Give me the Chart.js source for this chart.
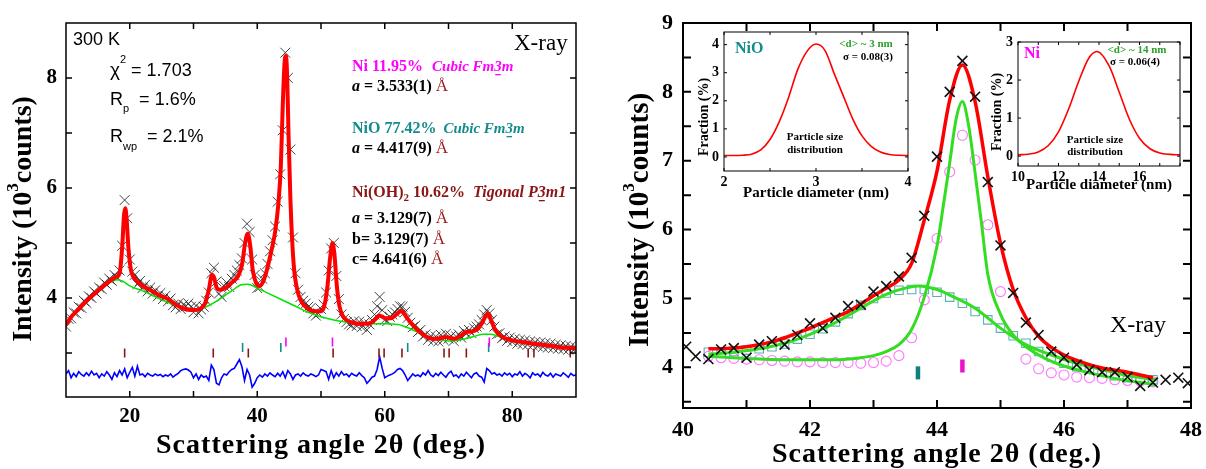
<!DOCTYPE html>
<html lang="en">
<head>
<meta charset="utf-8">
<title>XRD refinement of Ni / NiO / Ni(OH)2 nanoparticles</title>
<script src="https://cdn.jsdelivr.net/npm/chart.js@4.4.1/dist/chart.umd.min.js"></script>
<style>
  html, body { margin: 0; padding: 0; background: #fff; }
  #figure { position: relative; width: 1206px; height: 469px; overflow: hidden; background: #fff; }
  #figure canvas { position: absolute; }
</style>
</head>
<body>
<div id="figure">
  <canvas id="xrd" width="600" height="469" style="left:0;top:0;width:600px;height:469px"></canvas>
  <canvas id="peak" width="606" height="469" style="left:600px;top:0;width:606px;height:469px"></canvas>
  <canvas id="sizeNiO" width="225" height="180" style="left:690px;top:25px;width:225px;height:180px"></canvas>
  <canvas id="sizeNi" width="215" height="170" style="left:985px;top:30px;width:215px;height:170px"></canvas>
</div>
<script>
// ---------------- full pattern (left panel), 10^3 counts ----------------
// observed scan on a uniform 2θ step
const scanStart = 10;
const scanStep = 0.4;
const observedCounts = [
  3.48,3.62,3.63,3.74,3.72,3.84,3.82,3.95,3.91,4.03,
  4.00,4.12,4.08,4.19,4.16,4.28,4.24,4.35,4.31,4.42,
  4.37,4.50,4.95,5.78,5.45,4.70,4.48,4.42,4.25,4.31,
  4.18,4.24,4.12,4.19,4.08,4.14,4.03,4.09,3.98,4.04,
  3.94,3.99,3.87,3.83,3.90,3.80,3.88,3.85,3.90,3.84,
  3.74,3.86,3.72,3.79,3.84,3.95,4.10,4.45,4.55,4.30,
  4.08,4.02,4.22,4.28,4.20,4.35,4.42,4.50,4.60,4.72,
  5.00,5.35,5.20,4.70,4.42,4.18,4.20,4.35,4.45,4.62,
  4.85,5.05,5.30,5.75,6.25,7.05,8.46,8.00,6.70,5.10,
  4.45,4.15,4.02,3.95,3.90,3.84,3.82,3.72,3.68,3.72,
  3.80,3.88,4.10,4.50,4.90,5.00,4.40,3.98,3.70,3.62,
  3.56,3.52,3.50,3.58,3.49,3.57,3.47,3.55,3.42,3.52,
  3.60,3.70,3.85,4.02,3.78,3.60,3.58,3.66,3.70,3.74,
  3.80,3.85,3.84,3.75,3.64,3.55,3.47,3.50,3.38,3.42,
  3.30,3.34,3.24,3.31,3.22,3.30,3.21,3.33,3.24,3.35,
  3.26,3.31,3.22,3.30,3.34,3.28,3.40,3.35,3.42,3.36,
  3.45,3.48,3.52,3.60,3.70,3.78,3.72,3.60,3.48,3.34,
  3.36,3.27,3.30,3.22,3.28,3.20,3.26,3.17,3.24,3.16,
  3.23,3.15,3.21,3.14,3.20,3.12,3.19,3.11,3.18,3.10,
  3.17,3.09,3.15,3.08,3.14,3.07,3.13,3.06,3.12,3.05,
  3.10
];
// observed minus calculated, plotted with an offset below the pattern
const differenceCounts = [
  2.62,2.68,2.55,2.63,2.57,2.66,2.61,2.58,2.64,2.59,
  2.67,2.60,2.63,2.55,2.62,2.58,2.66,2.60,2.52,2.64,
  2.57,2.68,2.60,2.71,2.55,2.65,2.74,2.58,2.76,2.60,
  2.62,2.57,2.63,2.60,2.58,2.62,2.59,2.61,2.57,2.60,
  2.58,2.62,2.56,2.60,2.63,2.68,2.70,2.71,2.69,2.65,
  2.55,2.62,2.52,2.60,2.56,2.58,2.50,2.78,2.70,2.45,
  2.42,2.55,2.62,2.60,2.66,2.70,2.72,2.80,2.88,2.75,
  2.50,2.70,2.60,2.38,2.45,2.55,2.60,2.56,2.62,2.58,
  2.64,2.60,2.57,2.63,2.58,2.66,2.55,2.68,2.62,2.52,
  2.60,2.62,2.58,2.64,2.60,2.58,2.62,2.60,2.57,2.60,
  2.70,2.68,2.66,2.52,2.68,2.55,2.64,2.58,2.66,2.60,
  2.62,2.57,2.63,2.60,2.58,2.64,2.59,2.55,2.45,2.50,
  2.56,2.58,2.70,2.93,2.72,2.55,2.58,2.60,2.62,2.65,
  2.70,2.72,2.68,2.60,2.50,2.56,2.62,2.58,2.60,2.57,
  2.64,2.60,2.68,2.60,2.57,2.63,2.59,2.65,2.60,2.56,
  2.63,2.67,2.58,2.60,2.55,2.62,2.58,2.65,2.60,2.55,
  2.62,2.64,2.58,2.56,2.47,2.72,2.68,2.62,2.64,2.60,
  2.62,2.58,2.64,2.60,2.63,2.57,2.62,2.60,2.66,2.58,
  2.63,2.60,2.55,2.64,2.60,2.62,2.57,2.65,2.60,2.58,
  2.63,2.56,2.62,2.60,2.58,2.64,2.60,2.56,2.63,2.59,
  2.60
];
// calculated Rietveld profile
const calcAngle = [
  10,11,12,13,14,15,16,17,17.8,18.4,18.8,19.1,19.3,19.5,19.8,20.2,20.6,21,22,23,
  24,25,26,27,28,29,30,31,31.8,32.4,32.9,33.2,33.6,34.1,35,36,37,37.6,38.1,38.5,
  38.9,39.3,39.8,40.4,41,41.6,42.2,42.8,43.3,43.7,44.0,44.3,44.5,44.7,44.9,45.2,45.5,45.8,46.1,46.5,
  47,48,49,50,50.5,51,51.4,51.8,52.1,52.5,52.9,53.4,54,55,56,57,58,58.6,59.1,59.6,
  60.2,61,61.6,62.2,62.6,63,63.6,64.5,65.5,66.5,67.5,68.5,69.4,70,71,72,72.7,73.5,74.5,75.3,
  75.8,76.2,76.6,77.2,78,79,80,82,84,86,88,90
];
const calcCounts = [
  3.51,3.68,3.80,3.92,4.03,4.13,4.23,4.32,4.38,4.45,4.90,5.50,5.63,5.45,4.90,4.50,4.38,4.32,4.22,4.16,
  4.09,4.03,3.98,3.90,3.83,3.79,3.78,3.80,3.90,4.15,4.42,4.38,4.20,4.15,4.18,4.28,4.40,4.60,5.00,5.17,
  4.95,4.50,4.28,4.22,4.32,4.55,4.85,5.20,5.70,6.40,7.50,8.30,8.40,8.00,7.00,5.80,5.00,4.50,4.25,4.05,
  3.92,3.80,3.76,3.76,3.85,4.20,4.70,5.00,4.80,4.20,3.85,3.68,3.60,3.55,3.53,3.53,3.56,3.62,3.68,3.66,
  3.63,3.63,3.68,3.74,3.77,3.72,3.62,3.50,3.38,3.30,3.26,3.26,3.29,3.28,3.26,3.32,3.38,3.39,3.43,3.55,
  3.67,3.72,3.62,3.45,3.33,3.26,3.23,3.19,3.16,3.13,3.10,3.09
];
// refined background
const bgAngle = [10,12,14,16,17,18,19,20,22,24,26,28,29.5,31,32,34,36,37.5,38.5,40,42,44,46,48,50,52,54,56,58,60,62,64,66,68,70,72,74,75.5,76.5,78,80,82,84,86,88,90];
const bgCounts = [3.51,3.80,4.03,4.22,4.29,4.33,4.30,4.22,4.13,4.02,3.92,3.83,3.79,3.80,3.84,3.97,4.13,4.24,4.25,4.18,4.07,3.96,3.85,3.74,3.66,3.60,3.56,3.53,3.53,3.53,3.52,3.44,3.33,3.26,3.22,3.24,3.30,3.34,3.34,3.30,3.23,3.19,3.16,3.13,3.10,3.09];
// Bragg reflection positions (2θ, deg.)
const braggNi = [44.5, 51.8, 76.4];
const braggNiO = [37.7, 43.7, 63.6, 76.3];
const braggNiOH2 = [19.2, 33.1, 38.6, 51.9, 59.1, 59.9, 62.7, 69.3, 70.1, 72.8, 82.5, 83.4, 89.1];

const xrdXTicks = [20, 30, 40, 50, 60, 70, 80];
const xrdXLabels = [20, 40, 60, 80];
const xrdYTicks = [3, 4, 5, 6, 7, 8];
const xrdYLabels = [4, 6, 8];

// ---------------- (111)/(200) region (right panel), 10^3 counts ----------------
const peakObsAngle = [40.05,40.2,40.4,40.6,40.8,41.0,41.2,41.4,41.6,41.8,42.0,42.2,42.4,42.6,42.8,43.0,43.2,43.4,43.6,43.8,44.0,44.2,44.4,44.6,44.8,45.0,45.2,45.4,45.6,45.8,46.0,46.2,46.4,46.6,46.8,47.0,47.2,47.4,47.6,47.8,47.95];
const peakObsCounts = [4.30,4.16,4.12,4.26,4.28,4.14,4.33,4.38,4.33,4.47,4.64,4.57,4.72,4.89,4.91,5.10,5.18,5.32,5.59,6.20,7.06,8.00,8.45,7.93,6.69,5.77,5.08,4.65,4.47,4.23,4.14,4.04,3.96,3.93,3.93,3.86,3.73,3.78,3.82,3.85,3.77];
const totalFitAngle = [40.4,40.6,40.8,41.0,41.2,41.4,41.6,41.8,42.0,42.2,42.4,42.6,42.8,43.0,43.2,43.4,43.6,43.8,44.0,44.2,44.4,44.6,44.8,45.0,45.2,45.4,45.6,45.8,46.0,46.2,46.4,46.6,46.8,47.0,47.2,47.4];
const totalFitCounts = [4.27,4.27,4.28,4.30,4.33,4.37,4.43,4.50,4.57,4.65,4.73,4.81,4.92,5.04,5.15,5.27,5.51,6.14,6.85,7.88,8.39,7.86,6.77,5.80,5.13,4.72,4.45,4.29,4.18,4.10,4.04,3.99,3.96,3.93,3.89,3.85];
const nioFitAngle = [40.4,40.8,41.2,41.6,42.0,42.4,42.8,43.2,43.5,43.7,44.0,44.2,44.6,45.0,45.4,45.8,46.2,46.6,47.0,47.45];
const nioFitCounts = [4.19,4.22,4.27,4.35,4.48,4.65,4.86,5.06,5.15,5.18,5.13,5.05,4.86,4.57,4.33,4.18,4.06,3.97,3.88,3.82];
const niFitAngle = [40.4,41.0,41.6,42.0,42.4,42.8,43.0,43.2,43.4,43.6,43.8,44.0,44.1,44.2,44.3,44.4,44.5,44.6,44.7,44.8,45.0,45.2,45.4,45.7,46.0,46.4,46.8,47.2,47.45];
const niFitCounts = [4.16,4.13,4.11,4.11,4.11,4.14,4.17,4.23,4.33,4.55,5.02,5.76,6.35,6.97,7.60,7.86,7.50,6.82,6.10,5.35,4.77,4.47,4.30,4.13,4.02,3.92,3.84,3.78,3.75];
const nioPartAngle = [40.4,40.6,40.8,41.0,41.2,41.4,41.6,41.8,42.0,42.2,42.4,42.6,42.8,43.0,43.2,43.4,43.6,43.8,44.0,44.2,44.4,44.6,44.8,45.0,45.2,45.4,45.6,45.8,46.0,46.2,46.4,46.6,46.8,47.0,47.2,47.4];
const nioPartCounts = [4.22,4.22,4.23,4.25,4.27,4.30,4.34,4.41,4.48,4.56,4.66,4.78,4.90,5.00,5.08,5.12,5.13,5.13,5.09,5.02,4.93,4.81,4.69,4.57,4.46,4.35,4.23,4.15,4.06,4.01,3.98,3.93,3.88,3.85,3.83,3.82];
const niPartAngle = [40.4,40.6,40.8,41.0,41.2,41.4,41.6,41.8,42.0,42.2,42.4,42.6,42.8,43.0,43.2,43.4,43.6,43.8,44.0,44.2,44.4,44.6,44.8,45.0,45.4,45.6,45.8,46.0,46.2,46.4,46.6,46.8,47.0,47.2,47.4];
const niPartCounts = [4.16,4.14,4.13,4.12,4.11,4.10,4.09,4.08,4.08,4.07,4.07,4.07,4.06,4.07,4.09,4.17,4.43,4.98,5.87,6.84,7.37,7.01,6.07,5.10,4.12,3.98,3.92,3.89,3.86,3.85,3.84,3.82,3.81,3.80,3.79];
const peakBraggNiO = [43.7];
const peakBraggNi = [44.4];

const peakXTicks = [40, 41, 42, 43, 44, 45, 46, 47, 48];
const peakXLabels = [40, 42, 44, 46, 48];
const peakYTicks = [3.5, 4, 4.5, 5, 5.5, 6, 6.5, 7, 7.5, 8, 8.5, 9];
const peakYLabels = [4, 5, 6, 7, 8, 9];

// ---------------- particle size distributions (insets), % ----------------
const nioDiameter = [2.0,2.1,2.2,2.3,2.4,2.5,2.6,2.7,2.8,2.9,3.0,3.1,3.2,3.3,3.4,3.5,3.6,3.7,3.8,3.9,4.0];
const nioFraction = [0.05,0.05,0.06,0.10,0.25,0.62,1.25,2.10,3.10,3.75,4.02,3.78,2.95,2.15,1.35,0.75,0.38,0.18,0.09,0.06,0.05];
const niDiameter = [10,10.5,11,11.5,12,12.5,13,13.5,13.9,14.5,15,15.5,16,16.5,17,17.5,18];
const niFraction = [0.035,0.05,0.11,0.28,0.64,1.24,1.97,2.58,2.75,2.37,1.68,0.97,0.47,0.20,0.08,0.045,0.035];

const nioXTicks = [2, 2.5, 3, 3.5, 4];
const nioXLabels = [2, 3, 4];
const nioYTicks = [0, 1, 2, 3, 4];
const niXTicks = [10, 11, 12, 13, 14, 15, 16, 17, 18];
const niXLabels = [10, 12, 14, 16];
const niYTicks = [0, 1, 2, 3];

// ---------------- styling helpers ----------------
const SERIF = '"Liberation Serif", "Times New Roman", serif';
const SANS = '"Liberation Sans", Arial, sans-serif';
const COL = {
  ni: '#ff00ff', nio: '#138c8c', nioh: '#8b1515', ang: '#a01c1c',
  red: '#ff0000', green: '#00e400', blue: '#0000ff', size: '#2ca02c'
};
const B = s => `bold ${s}px ${SERIF}`;
const BI = s => `italic bold ${s}px ${SERIF}`;
const R = s => `${s}px ${SERIF}`;
const S = s => `${s}px ${SANS}`;

Chart.defaults.font.family = SERIF;
Chart.defaults.color = '#000';
Chart.defaults.animation = false;

const pts = (xs, ys) => xs.map((x, i) => ({ x, y: ys[i] }));
const scan = (start, step, ys) => ys.map((y, i) => ({ x: +(start + i * step).toFixed(2), y }));
const row = (xs, level) => xs.map(x => ({ x, y: level }));

function axisX(min, max, ticks, labels, size, pad, height) {
  return {
    type: 'linear', min, max,
    afterBuildTicks: s => { s.ticks = ticks.map(value => ({ value })); },
    ticks: {
      autoSkip: false, maxRotation: 0, minRotation: 0, padding: pad, color: '#000',
      font: { family: SERIF, size, weight: 'bold' },
      callback: v => labels.includes(v) ? String(v) : ''
    },
    grid: { display: false, drawTicks: false },
    border: { display: false },
    afterFit: s => { s.height = height; s.paddingLeft = 0; s.paddingRight = 0; }
  };
}
function axisY(min, max, ticks, labels, size, pad, width) {
  return {
    type: 'linear', min, max,
    afterBuildTicks: s => { s.ticks = ticks.map(value => ({ value })); },
    ticks: {
      autoSkip: false, padding: pad, color: '#000',
      font: { family: SERIF, size, weight: 'bold' },
      callback: v => labels.includes(v) ? String(v) : ''
    },
    grid: { display: false, drawTicks: false },
    border: { display: false },
    afterFit: s => { s.width = width; s.paddingTop = 0; s.paddingBottom = 0; }
  };
}

// box frame with inward tick marks on all four sides
function frameTicks(xTicks, yTicks, len, lw) {
  return {
    id: 'frameTicks',
    afterDatasetsDraw(chart) {
      const { ctx, chartArea: a, scales: { x, y } } = chart;
      ctx.save();
      ctx.strokeStyle = '#000';
      ctx.lineWidth = lw;
      ctx.beginPath();
      xTicks.forEach(v => {
        const p = x.getPixelForValue(v);
        ctx.moveTo(p, a.bottom); ctx.lineTo(p, a.bottom - len);
        ctx.moveTo(p, a.top); ctx.lineTo(p, a.top + len);
      });
      yTicks.forEach(v => {
        const p = y.getPixelForValue(v);
        ctx.moveTo(a.left, p); ctx.lineTo(a.left + len, p);
        ctx.moveTo(a.right, p); ctx.lineTo(a.right - len, p);
      });
      ctx.stroke();
      ctx.strokeRect(a.left, a.top, a.right - a.left, a.bottom - a.top);
      ctx.restore();
    }
  };
}

// draw a line of mixed-style text runs; returns end x
function runs(ctx, x, y, parts) {
  let cx = x;
  parts.forEach(p => {
    ctx.font = p.f;
    ctx.fillStyle = p.c || '#000';
    ctx.fillText(p.t, cx, y + (p.dy || 0));
    const w = ctx.measureText(p.t).width;
    if (p.bar) ctx.fillRect(cx + 1, y + 3, w - 2, 1.3);
    cx += w + (p.gap || 0);
  });
  return cx;
}
function runsWidth(ctx, parts) {
  return parts.reduce((w, p) => { ctx.font = p.f; return w + ctx.measureText(p.t).width + (p.gap || 0); }, 0);
}
// centred title made of runs, optionally rotated to read bottom-to-top
function title(ctx, parts, cx, cy, rotated, spacing) {
  ctx.save();
  ctx.translate(cx, cy);
  if (rotated) ctx.rotate(-Math.PI / 2);
  ctx.letterSpacing = spacing || '0px';
  ctx.textAlign = 'left';
  ctx.textBaseline = rotated ? 'middle' : 'alphabetic';
  const w = runsWidth(ctx, parts);
  runs(ctx, -w / 2, 0, parts);
  ctx.restore();
}
const intensityTitle = s => [
  { t: 'Intensity (10', f: B(s) }, { t: '3', f: B(Math.round(s * 0.6)), dy: -s * 0.38 }, { t: 'counts)', f: B(s) }
];

const lineSet = (label, xs, ys, color, width, order) => ({
  label, data: pts(xs, ys), showLine: true, borderColor: color, borderWidth: width,
  pointRadius: 0, cubicInterpolationMode: 'monotone', order
});
const braggSet = (label, xs, level, color, radius, width) => ({
  label, data: row(xs, level), showLine: false, pointStyle: 'line', pointRotation: 90,
  pointRadius: radius, pointBorderColor: color, borderColor: color, pointBorderWidth: width, order: 0
});

// ---------------- left panel: full refinement ----------------
const xrdNotes = {
  id: 'xrdNotes',
  afterDraw(chart) {
    const { ctx, chartArea: a } = chart;
    ctx.save();
    ctx.textAlign = 'left';
    ctx.textBaseline = 'alphabetic';
    runs(ctx, 73, 45, [{ t: '300 K', f: S(18) }]);
    runs(ctx, 110, 76, [{ t: 'χ', f: S(19) }, { t: '2', f: S(11), dy: -13 }, { t: ' = 1.703', f: S(18) }]);
    runs(ctx, 110, 105, [{ t: 'R', f: S(18) }, { t: 'p', f: S(11), dy: 7 }, { t: '  = 1.6%', f: S(18) }]);
    runs(ctx, 110, 142, [{ t: 'R', f: S(18) }, { t: 'wp', f: S(11), dy: 8 }, { t: '  = 2.1%', f: S(18) }]);
    runs(ctx, 514, 50, [{ t: 'X-ray', f: R(23) }]);

    const px = 352;
    runs(ctx, px, 71, [
      { t: 'Ni 11.95%', f: B(16), c: COL.ni, gap: 9 },
      { t: 'Cubic Fm', f: BI(15), c: COL.ni }, { t: '3', f: BI(15), c: COL.ni, bar: true }, { t: 'm', f: BI(15), c: COL.ni }
    ]);
    runs(ctx, px, 91, [{ t: 'a', f: BI(16) }, { t: ' = 3.533(1) ', f: B(16) }, { t: 'Å', f: R(17), c: COL.ang }]);
    runs(ctx, px, 133, [
      { t: 'NiO 77.42%', f: B(16), c: COL.nio, gap: 7 },
      { t: 'Cubic Fm', f: BI(15), c: COL.nio }, { t: '3', f: BI(15), c: COL.nio, bar: true }, { t: 'm', f: BI(15), c: COL.nio }
    ]);
    runs(ctx, px, 153, [{ t: 'a', f: BI(16) }, { t: ' = 4.417(9) ', f: B(16) }, { t: 'Å', f: R(17), c: COL.ang }]);
    runs(ctx, px, 197, [
      { t: 'Ni(OH)', f: B(16), c: COL.nioh }, { t: '2', f: B(11), c: COL.nioh, dy: 4 },
      { t: ' 10.62%', f: B(16), c: COL.nioh, gap: 8 },
      { t: 'Tigonal P', f: BI(16), c: COL.nioh }, { t: '3', f: BI(16), c: COL.nioh, bar: true }, { t: 'm1', f: BI(16), c: COL.nioh }
    ]);
    runs(ctx, px, 223, [{ t: 'a', f: BI(16) }, { t: ' = 3.129(7) ', f: B(16) }, { t: 'Å', f: R(17), c: COL.ang }]);
    runs(ctx, px, 244, [{ t: 'b= 3.129(7) ', f: B(16) }, { t: 'Å', f: R(17), c: COL.ang }]);
    runs(ctx, px, 264, [{ t: 'c= 4.641(6) ', f: B(16) }, { t: 'Å', f: R(17), c: COL.ang }]);
    ctx.restore();

    title(ctx, [{ t: 'Scattering angle 2θ (deg.)', f: B(28) }], (a.left + a.right) / 2, 453, false, '1px');
    title(ctx, intensityTitle(28), 24, 219, true, '0px');
  }
};

new Chart(document.getElementById('xrd'), {
  type: 'scatter',
  data: {
    datasets: [
      lineSet('Calculated', calcAngle, calcCounts, COL.red, 4, 1),
      lineSet('Background', bgAngle, bgCounts, COL.green, 1.5, 2),
      {
        label: 'Observed', data: scan(scanStart, scanStep, observedCounts), showLine: false,
        pointStyle: 'crossRot', pointRadius: 7, pointBorderColor: 'rgba(35,35,35,0.85)',
        borderColor: 'rgba(35,35,35,0.85)', pointBorderWidth: 1, order: 3
      },
      {
        label: 'Difference', data: scan(scanStart, scanStep, differenceCounts), showLine: true,
        borderColor: COL.blue, borderWidth: 1.6, pointRadius: 0, tension: 0, order: 1
      },
      braggSet('Ni', braggNi, 3.2, COL.ni, 4.5, 1.6),
      braggSet('NiO', braggNiO, 3.1, COL.nio, 4.5, 1.6),
      braggSet('Ni(OH)2', braggNiOH2, 3.0, COL.nioh, 4.5, 1.6)
    ]
  },
  options: {
    responsive: false, devicePixelRatio: 1, events: [],
    layout: { padding: { left: 0, right: 24, top: 23, bottom: 0 } },
    plugins: { legend: { display: false }, tooltip: { enabled: false } },
    scales: {
      x: axisX(10, 90, xrdXTicks, xrdXLabels, 21, 7, 72),
      y: axisY(2.2, 9, xrdYTicks, xrdYLabels, 21, 9, 66)
    }
  },
  plugins: [frameTicks(xrdXTicks, xrdYTicks, 6, 1.5), xrdNotes]
});

// ---------------- right panel: peak decomposition ----------------
const peakNotes = {
  id: 'peakNotes',
  afterDraw(chart) {
    const { ctx, chartArea: a } = chart;
    ctx.save();
    ctx.textAlign = 'left';
    ctx.textBaseline = 'alphabetic';
    runs(ctx, 510, 332, [{ t: 'X-ray', f: R(24) }]);
    ctx.restore();
    title(ctx, [{ t: 'Scattering angle 2θ (deg.)', f: B(28) }], (a.left + a.right) / 2, 462, false, '1px');
    title(ctx, intensityTitle(29), 41, 220, true, '0px');
  }
};

new Chart(document.getElementById('peak'), {
  type: 'scatter',
  data: {
    datasets: [
      {
        label: 'Observed', data: pts(peakObsAngle, peakObsCounts), showLine: false,
        pointStyle: 'crossRot', pointRadius: 7, pointBorderColor: '#111', borderColor: '#111',
        pointBorderWidth: 1.6, order: 0
      },
      lineSet('Total fit', totalFitAngle, totalFitCounts, COL.red, 3.5, 1),
      lineSet('NiO profile', nioFitAngle, nioFitCounts, '#33dd22', 3, 2),
      lineSet('Ni profile', niFitAngle, niFitCounts, '#33dd22', 3, 2),
      {
        label: 'NiO contribution', data: pts(nioPartAngle, nioPartCounts), showLine: false,
        pointStyle: 'rect', pointRadius: 6, pointBorderColor: '#5fb0b0', borderColor: '#5fb0b0',
        pointBackgroundColor: 'rgba(0,0,0,0)', pointBorderWidth: 1.1, order: 3
      },
      {
        label: 'Ni contribution', data: pts(niPartAngle, niPartCounts), showLine: false,
        pointStyle: 'circle', pointRadius: 5, pointBorderColor: '#ff77ff', borderColor: '#ff77ff',
        pointBackgroundColor: 'rgba(0,0,0,0)', pointBorderWidth: 1.1, order: 3
      },
      braggSet('NiO reflection', peakBraggNiO, 3.92, '#0f7f7f', 6.5, 4.5),
      braggSet('Ni reflection', peakBraggNi, 4.02, '#ee11cc', 6.5, 4.5)
    ]
  },
  options: {
    responsive: false, devicePixelRatio: 1, events: [],
    layout: { padding: { left: 0, right: 15, top: 23, bottom: 0 } },
    plugins: { legend: { display: false }, tooltip: { enabled: false } },
    scales: {
      x: axisX(40, 48, peakXTicks, peakXLabels, 22, 9, 61),
      y: axisY(3.41, 9, peakYTicks, peakYLabels, 22, 10, 83)
    }
  },
  plugins: [frameTicks(peakXTicks, peakYTicks, 8, 2), peakNotes]
});

// ---------------- insets: particle size distributions ----------------
function sizeInset(canvasId, xs, ys, xr, yr, xTicks, xLabels, yTicks, pad, notes) {
  return new Chart(document.getElementById(canvasId), {
    type: 'scatter',
    data: { datasets: [lineSet('Fraction', xs, ys, COL.red, 1.6, 1)] },
    options: {
      responsive: false, devicePixelRatio: 1, events: [],
      layout: { padding: { left: 0, right: pad.right, top: pad.top, bottom: 0 } },
      plugins: { legend: { display: false }, tooltip: { enabled: false } },
      scales: {
        x: axisX(xr[0], xr[1], xTicks, xLabels, 14, 3, pad.xh),
        y: axisY(yr[0], yr[1], yTicks, yTicks, 14, 5, pad.yw)
      }
    },
    plugins: [frameTicks(xTicks, yTicks, 3, 1), { id: 'insetNotes', afterDraw: c => notes(c.ctx, c.chartArea) }]
  });
}

sizeInset('sizeNiO', nioDiameter, nioFraction, [2, 4], [-0.5, 4.45], nioXTicks, nioXLabels, nioYTicks,
  { right: 7, top: 7, xh: 34, yw: 34 },
  (ctx, a) => {
    ctx.save();
    ctx.textBaseline = 'alphabetic';
    ctx.textAlign = 'left';
    runs(ctx, 45, 28, [{ t: 'NiO', f: B(16), c: COL.nio }]);
    ctx.textAlign = 'center';
    runs(ctx, 176, 22, [{ t: '<d> ~ 3 nm', f: B(11), c: COL.size }]);
    runs(ctx, 178, 35, [{ t: 'σ = 0.08(3)', f: B(11) }]);
    runs(ctx, 125, 115, [{ t: 'Particle size', f: B(11) }]);
    runs(ctx, 125, 128, [{ t: 'distribution', f: B(11) }]);
    ctx.restore();
    title(ctx, [{ t: 'Particle diameter (nm)', f: B(15) }], (a.left + a.right) / 2, 172, false);
    title(ctx, [{ t: 'Fraction (%)', f: B(14) }], 14, 92, true);
  });

sizeInset('sizeNi', niDiameter, niFraction, [10, 18], [-0.26, 3], niXTicks, niXLabels, niYTicks,
  { right: 20, top: 12, xh: 34, yw: 33 },
  (ctx, a) => {
    ctx.save();
    ctx.textBaseline = 'alphabetic';
    ctx.textAlign = 'left';
    runs(ctx, 39, 28, [{ t: 'Ni', f: B(16), c: COL.ni }]);
    ctx.textAlign = 'center';
    runs(ctx, 152, 23, [{ t: '<d> ~ 14 nm', f: B(11), c: COL.size }]);
    runs(ctx, 150, 35, [{ t: 'σ = 0.06(4)', f: B(11) }]);
    runs(ctx, 110, 113, [{ t: 'Particle size', f: B(11) }]);
    runs(ctx, 110, 125, [{ t: 'distribution', f: B(11) }]);
    ctx.restore();
    title(ctx, [{ t: 'Particle diameter (nm)', f: B(15) }], (a.left + a.right) / 2, 159, false);
    title(ctx, [{ t: 'Fraction (%)', f: B(14) }], 12, 82, true);
  });
</script>
</body>
</html>
